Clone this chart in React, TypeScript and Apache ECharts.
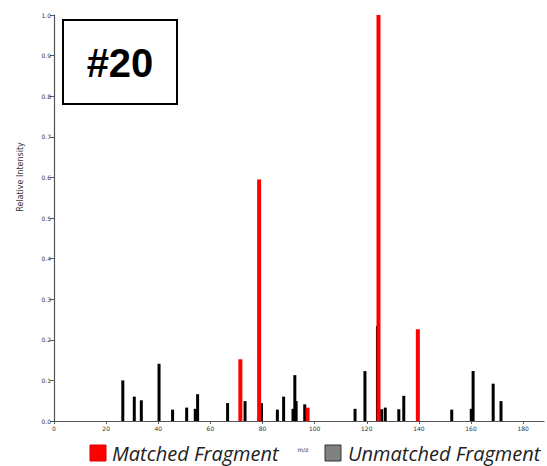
import React, { useEffect, useRef } from "react";
import * as echarts from "echarts";

const unmatchedMz = [26.4, 30.8, 33.5, 40.3, 45.5, 50.9, 54.2, 55.1, 66.6, 73.3, 79.6, 85.7, 88.1, 91.7, 92.4, 92.9, 96.2, 115.5, 119.3, 124.1, 125.7, 127.1, 132.3, 134.2, 152.6, 160.1, 160.8, 168.5, 171.5];
const unmatchedIntensity = [0.10, 0.06, 0.051, 0.141, 0.028, 0.033, 0.03, 0.066, 0.044, 0.049, 0.044, 0.028, 0.06, 0.03, 0.113, 0.049, 0.041, 0.03, 0.123, 0.234, 0.029, 0.033, 0.029, 0.062, 0.028, 0.03, 0.123, 0.092, 0.049];
const matchedMz = [71.5, 78.7, 97.3, 124.5, 139.6];
const matchedIntensity = [0.152, 0.595, 0.033, 1.0, 0.226];
const xTicks = [0, 20, 40, 60, 80, 100, 120, 140, 160, 180];

function stickRender(width: number, color: string) {
  return (params: any, api: any) => {
    const x = api.value(0);
    const y = api.value(1);
    const top = api.coord([x, y]);
    const base = api.coord([x, 0]);
    return {
      type: "rect",
      shape: { x: top[0] - width / 2, y: top[1], width, height: base[1] - top[1] },
      style: { fill: color },
    };
  };
}

export default function App() {
  const ref = useRef<HTMLDivElement>(null);
  useEffect(() => {
    const chart = echarts.init(ref.current!, null, { renderer: "svg" });
    const labelStyle = { color: "#333", fontSize: 6, fontFamily: "DejaVu Sans" };
    chart.setOption({
      animation: false,
      grid: { left: 54, top: 15, right: 3, bottom: 45, containLabel: false },
      xAxis: {
        type: "value",
        min: 0,
        max: 188,
        interval: 20,
        splitLine: { show: false },
        axisLine: { lineStyle: { color: "#555", width: 1.2 } },
        axisTick: { show: true, length: 3, lineStyle: { color: "#555" }, customValues: xTicks },
        axisLabel: { ...labelStyle, margin: 4, customValues: xTicks },
      },
      yAxis: {
        type: "value",
        min: 0,
        max: 1,
        interval: 0.1,
        splitLine: { show: false },
        axisLine: { show: true, lineStyle: { color: "#555", width: 1.2 } },
        axisTick: { show: true, length: 4, lineStyle: { color: "#555" } },
        axisLabel: { ...labelStyle, margin: 3, formatter: (v: number) => v.toFixed(1) },
      },
      series: [
        {
          type: "custom",
          renderItem: stickRender(3, "#000"),
          data: unmatchedMz.map((m, i) => [m, unmatchedIntensity[i]]),
          encode: { x: 0, y: 1 },
          z: 2,
        },
        {
          type: "custom",
          renderItem: stickRender(4, "#ff0000"),
          data: matchedMz.map((m, i) => [m, matchedIntensity[i]]),
          encode: { x: 0, y: 1 },
          z: 3,
        },
      ],
      graphic: [
        {
          type: "text",
          x: 20,
          y: 177,
          rotation: Math.PI / 2,
          style: { text: "Relative Intensity", fontSize: 8, fill: "#333", fontFamily: "DejaVu Sans", align: "center", verticalAlign: "middle" },
        },
        {
          type: "text",
          x: 303,
          y: 449,
          style: { text: "m/z", fontSize: 6, fill: "#333", fontFamily: "DejaVu Sans", align: "center", verticalAlign: "middle" },
        },
        {
          type: "rect",
          shape: { x: 63, y: 20, width: 114, height: 84 },
          style: { fill: "#fff", stroke: "#000", lineWidth: 2 },
          z: 10,
        },
        {
          type: "text",
          x: 120,
          y: 63,
          z: 11,
          style: { text: "#20", fontSize: 40, fontWeight: "bold", fill: "#000", fontFamily: "Liberation Sans, Arial", align: "center", verticalAlign: "middle" },
        },
        {
          type: "rect",
          shape: { x: 90, y: 445, width: 16, height: 16 },
          style: { fill: "#ff0000", stroke: "#e00000", lineWidth: 1 },
        },
        {
          type: "text",
          x: 112,
          y: 453,
          style: { text: "Matched Fragment", fontSize: 20, fontStyle: "italic", fill: "#222", fontFamily: "Open Sans", align: "left", verticalAlign: "middle" },
        },
        {
          type: "rect",
          shape: { x: 325, y: 445, width: 16, height: 16 },
          style: { fill: "#808080", stroke: "#333", lineWidth: 1 },
        },
        {
          type: "text",
          x: 348,
          y: 453,
          style: { text: "Unmatched Fragment", fontSize: 20, fontStyle: "italic", fill: "#222", fontFamily: "Open Sans", align: "left", verticalAlign: "middle" },
        },
      ],
    });
    return () => chart.dispose();
  }, []);
  return <div ref={ref} style={{ width: 547, height: 466, position: "absolute", left: 0, top: 0, background: "#fff" }} />;
}
